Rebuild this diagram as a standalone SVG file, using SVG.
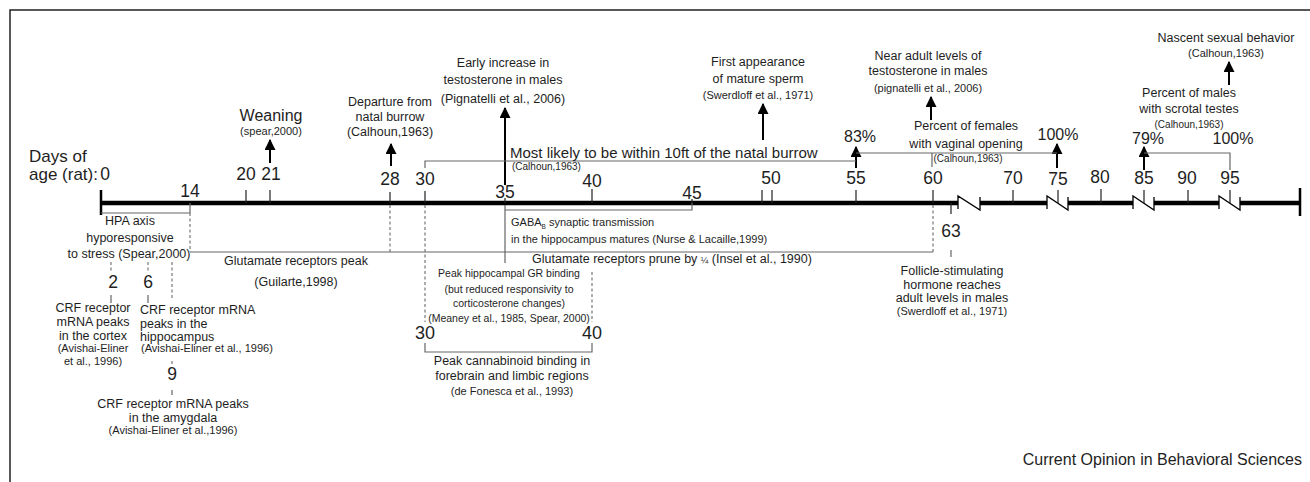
<svg xmlns="http://www.w3.org/2000/svg" width="1310" height="482" viewBox="0 0 1310 482">
<defs>
<style>
text{font-family:"Liberation Sans",Arial,sans-serif;fill:#1e1e1e}
.c{text-anchor:middle}
.num{font-size:17.5px}
.big{font-size:16px}
.lab{font-size:12.5px}
.cit{font-size:11px}
.sm{font-size:10px}
.axis{stroke:#000;stroke-width:4.5;fill:none}
.tk{stroke:#222;stroke-width:1.2;fill:none}
.br{stroke:#666;stroke-width:1.2;fill:none}
.ds{stroke:#777;stroke-width:1.2;stroke-dasharray:3,2.5;fill:none}
.ar{stroke:#000;stroke-width:2;fill:none}
.zz{stroke:#000;stroke-width:1.3;fill:none}
</style>
<marker id="ah" viewBox="0 0 10 10" refX="9" refY="5" markerWidth="11" markerHeight="11" markerUnits="userSpaceOnUse" orient="auto">
<path d="M0,0 L10,5 L0,10 z" fill="#000"/>
</marker>
</defs>
<rect width="1310" height="482" fill="#fff"/>
<path d="M10,482 V10 H1310" stroke="#222" stroke-width="1.5" fill="none"/>

<g id="axis">
<path class="axis" d="M101,203 H958 M980,203 H1047 M1068,203 H1133 M1154,203 H1219 M1240,203 H1300"/>
<path d="M101,190 V215 M1300,188 V216" stroke="#000" stroke-width="2.5"/>
<path class="zz" d="M958,209 V196 L980,210 V197 M1047,209 V196 L1068,210 V197 M1133,209 V196 L1154,210 V197 M1219,209 V196 L1240,210 V197"/>
<path class="tk" d="M246,190 V203 M270,190 V203 M390,192 V203 M425,191 V203 M505,198 V203 M592,189 V203 M692,199 V203 M762,190 V203 M772,190 V203 M856,190 V203 M933,190 V203 M1013,190 V203 M1058,190 V203 M1101,189 V203 M1144,190 V203 M1188,190 V203 M1230,190 V203 M951,203 V214"/>
<text x="29" y="162" style="font-size:17px">Days of</text>
<text x="29" y="180" style="font-size:17px">age (rat):</text>
<text class="num c" x="105" y="180">0</text>
<text class="num c" x="190" y="197">14</text>
<text class="num c" x="246" y="180">20</text>
<text class="num c" x="271" y="180">21</text>
<text class="num c" x="390" y="185">28</text>
<text class="num c" x="425" y="185">30</text>
<text class="num c" x="505" y="198">35</text>
<text class="num c" x="592" y="187">40</text>
<text class="num c" x="692" y="199">45</text>
<text class="num c" x="771" y="184">50</text>
<text class="num c" x="856" y="184">55</text>
<text class="num c" x="933" y="184">60</text>
<text class="num c" x="1013" y="184">70</text>
<text class="num c" x="1058" y="185">75</text>
<text class="num c" x="1100" y="183">80</text>
<text class="num c" x="1144" y="184">85</text>
<text class="num c" x="1187" y="184">90</text>
<text class="num c" x="1230" y="184">95</text>
</g>

<g id="connectors">
<line class="ar" x1="270" y1="163" x2="270" y2="140" marker-end="url(#ah)"/>
<line class="ar" x1="391" y1="166" x2="391" y2="144" marker-end="url(#ah)"/>
<line class="ar" x1="505" y1="185" x2="505" y2="108" marker-end="url(#ah)"/>
<line class="ar" x1="763" y1="140" x2="763" y2="104" marker-end="url(#ah)"/>
<line class="ar" x1="931" y1="120" x2="931" y2="97" marker-end="url(#ah)"/>
<line class="ar" x1="856" y1="168" x2="856" y2="147" marker-end="url(#ah)"/>
<line class="ar" x1="1057" y1="168" x2="1057" y2="144" marker-end="url(#ah)"/>
<line class="ar" x1="1144" y1="170" x2="1144" y2="147" marker-end="url(#ah)"/>
<line class="ar" x1="1229" y1="85" x2="1229" y2="62" marker-end="url(#ah)"/>
<path class="br" d="M425,168 V161 H856"/>
<path class="br" d="M856,153 H1057 M932,153 V167"/>
<path class="br" d="M1144,153 H1230 V170"/>
<path class="br" d="M101,213 H190 V203"/>
<path class="br" d="M190,252 H933"/>
<path class="br" d="M505,205 V263 M505,210 H692 V203"/>
<path class="br" d="M951,250 V257"/>
<path class="br" d="M425,343 V352 H592 V343"/>
<path class="ds" d="M190,213 V252 M390,205 V252 M425,205 V322 M933,205 V252 M592,272 V322 M111,262 V272 M148,262 V272 M172,262 V298 M172,361 V366"/>
<path class="br" d="M111,295 V303 M148,295 V303 M172,390 V395"/>
</g>

<g id="weaning">
<text class="big c" x="271" y="121">Weaning</text>
<text class="cit c" x="271" y="135">(spear,2000)</text>
</g>
<g id="departure">
<text class="lab c" x="390" y="106">Departure from</text>
<text class="lab c" x="390" y="121">natal burrow</text>
<text class="lab c" x="390" y="136">(Calhoun,1963)</text>
</g>
<g id="early-testosterone">
<text class="lab c" x="503" y="67">Early increase in</text>
<text class="lab c" x="503" y="84">testosterone in males</text>
<text class="lab c" x="503" y="103">(Pignatelli et al., 2006)</text>
</g>
<g id="natal-burrow">
<text x="510" y="158" style="font-size:15px">Most likely to be within 10ft of the natal burrow</text>
<text class="sm" x="512" y="170">(Calhoun,1963)</text>
</g>
<g id="sperm">
<text class="lab c" x="758" y="66">First appearance</text>
<text class="lab c" x="758" y="83">of mature sperm</text>
<text class="cit c" x="758" y="99">(Swerdloff et al., 1971)</text>
</g>
<g id="near-adult">
<text class="lab c" x="928" y="60">Near adult levels of</text>
<text class="lab c" x="928" y="75">testosterone in males</text>
<text class="cit c" x="928" y="92">(pignatelli et al., 2006)</text>
</g>
<g id="vaginal">
<text class="big c" x="860" y="142">83%</text>
<text class="lab c" x="966" y="130">Percent of females</text>
<text class="lab c" x="966" y="148">with vaginal opening</text>
<text class="sm c" x="968" y="162">(Calhoun,1963)</text>
<text class="big c" x="1058" y="140">100%</text>
</g>
<g id="nascent">
<text class="lab c" x="1226" y="42">Nascent sexual behavior</text>
<text class="cit c" x="1226" y="57">(Calhoun,1963)</text>
</g>
<g id="scrotal">
<text class="lab c" x="1189" y="97">Percent of males</text>
<text class="lab c" x="1189" y="113">with scrotal testes</text>
<text class="sm c" x="1189" y="128">(Calhoun,1963)</text>
<text class="big c" x="1148" y="144">79%</text>
<text class="big c" x="1233" y="144">100%</text>
</g>
<g id="hpa">
<text class="lab c" x="130" y="225">HPA axis</text>
<text class="lab c" x="130" y="242">hyporesponsive</text>
<text class="lab c" x="129" y="258">to stress (Spear,2000)</text>
</g>
<g id="crf-cortex">
<text class="num c" x="113" y="288">2</text>
<text class="lab c" x="93" y="312">CRF receptor</text>
<text class="lab c" x="93" y="326">mRNA peaks</text>
<text class="lab c" x="93" y="340">in the cortex</text>
<text class="cit c" x="93" y="352">(Avishai-Eliner</text>
<text class="cit c" x="93" y="365">et al., 1996)</text>
</g>
<g id="crf-hippocampus">
<text class="num c" x="148" y="288">6</text>
<text class="lab" x="140" y="314">CRF receptor mRNA</text>
<text class="lab" x="140" y="328">peaks in the</text>
<text class="lab" x="140" y="341">hippocampus</text>
<text class="cit" x="141" y="352">(Avishai-Eliner et al., 1996)</text>
</g>
<g id="crf-amygdala">
<text class="num c" x="172" y="380">9</text>
<text class="lab c" x="173" y="408">CRF receptor mRNA peaks</text>
<text class="lab c" x="173" y="422">in the amygdala</text>
<text class="cit c" x="173" y="434">(Avishai-Eliner et al.,1996)</text>
</g>
<g id="glutamate-peak">
<text class="lab c" x="296" y="265">Glutamate receptors peak</text>
<text class="lab c" x="296" y="286">(Guilarte,1998)</text>
</g>
<g id="gaba">
<text class="cit" x="511" y="226">GABA<tspan style="font-size:6.5px" dy="3">B</tspan><tspan dy="-3"> synaptic transmission</tspan></text>
<text class="cit" x="511" y="243">in the hippocampus matures (Nurse &amp; Lacaille,1999)</text>
</g>
<g id="glutamate-prune">
<text class="lab" x="532" y="263">Glutamate receptors prune by <tspan style="font-size:9px">¼</tspan>  (Insel et al., 1990)</text>
</g>
<g id="gr-binding">
<text class="c" x="509" y="277" style="font-size:10.5px">Peak hippocampal GR binding</text>
<text class="c" x="509" y="293" style="font-size:10.5px">(but reduced responsivity to</text>
<text class="c" x="509" y="307" style="font-size:10.5px">corticosterone changes)</text>
<text class="c" x="509" y="322" style="font-size:10.5px">(Meaney et al., 1985, Spear, 2000)</text>
</g>
<g id="cannabinoid">
<text class="c" x="425" y="339" style="font-size:18px">30</text>
<text class="c" x="592" y="339" style="font-size:18px">40</text>
<text class="lab c" x="512" y="365">Peak cannabinoid binding in</text>
<text class="lab c" x="512" y="380">forebrain and limbic regions</text>
<text class="cit c" x="512" y="395">(de Fonesca et al., 1993)</text>
</g>
<g id="fsh">
<text class="num c" x="951" y="237">63</text>
<text class="lab c" x="952" y="275">Follicle-stimulating</text>
<text class="lab c" x="952" y="289">hormone reaches</text>
<text class="lab c" x="952" y="302">adult levels in males</text>
<text class="cit c" x="952" y="315">(Swerdloff et al., 1971)</text>
</g>
<text x="1302" y="465" style="font-size:16px;text-anchor:end">Current Opinion in Behavioral Sciences</text>
</svg>
